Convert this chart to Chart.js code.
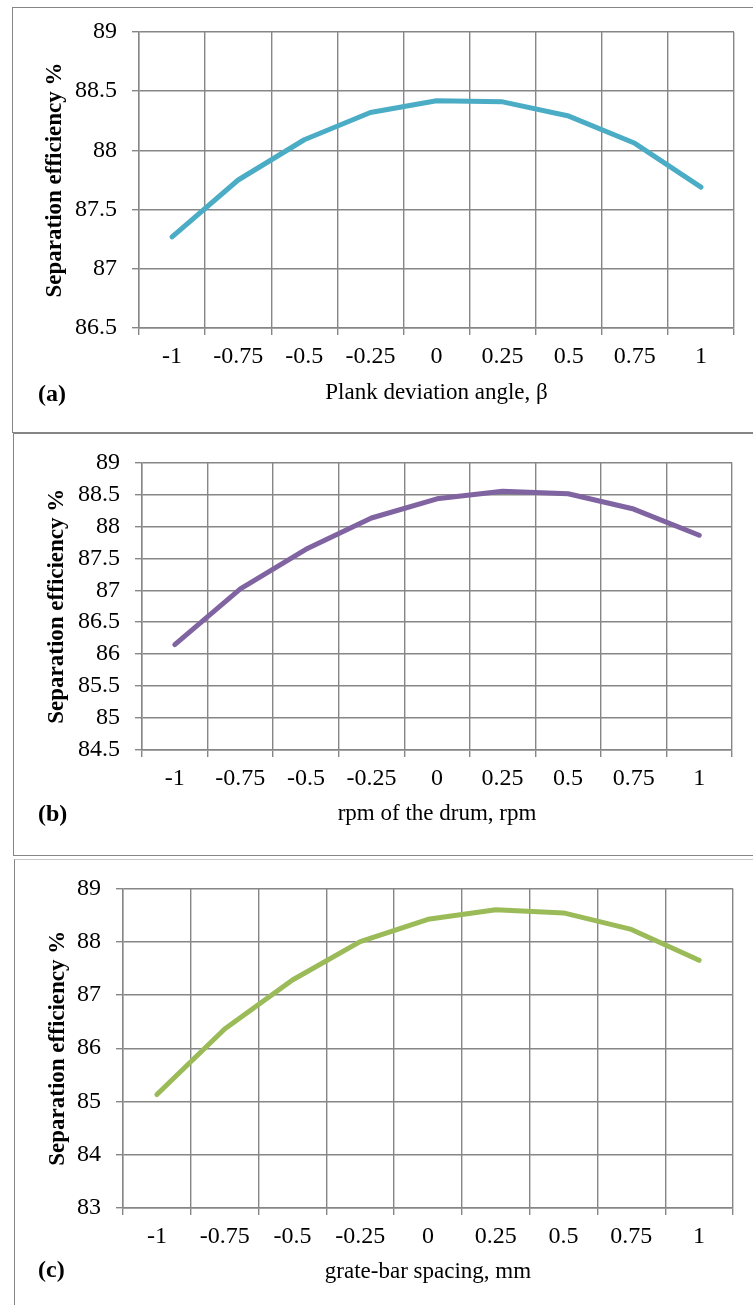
<!DOCTYPE html>
<html>
<head>
<meta charset="utf-8">
<title>Separation efficiency</title>
<script src="https://cdn.jsdelivr.net/npm/chart.js@4.4.1/dist/chart.umd.min.js"></script>
<style>
  html, body { margin: 0; padding: 0; background: #fff; }
  body { width: 753px; height: 1305px; position: relative; overflow: hidden; }
  .box { position: absolute; border: 1px solid #858585; box-sizing: border-box; }
  canvas { position: absolute; left: 0; }
  .tag { position: absolute; left: 38px; font: bold 24px/1 'Liberation Serif', 'Times New Roman', serif; color: #000; }
</style>
</head>
<body>
<div class="box" style="left:12px; top:7px; width:770px; height:426px;"></div>
<div class="box" style="left:13px; top:433px; width:770px; height:423px;"></div>
<div class="box" style="left:14px; top:859px; width:770px; height:470px; border-top-color:#c8c8c8;"></div>

<canvas id="chartA" width="753" height="432" style="top:0px"></canvas>
<canvas id="chartB" width="753" height="422" style="top:433px"></canvas>
<canvas id="chartC" width="753" height="446" style="top:859px"></canvas>

<div class="tag" style="top:381px">(a)</div>
<div class="tag" style="top:801px">(b)</div>
<div class="tag" style="top:1257px">(c)</div>

<script>
'use strict';

/* ─────────────────────────────────────────────────
   DATA
───────────────────────────────────────────────── */
const categories = ['-1', '-0.75', '-0.5', '-0.25', '0', '0.25', '0.5', '0.75', '1'];

const plankEff = [87.27, 87.75, 88.09, 88.32, 88.42, 88.41, 88.29, 88.06, 87.69];
const drumEff  = [86.15, 87.02, 87.64, 88.13, 88.43, 88.55, 88.51, 88.27, 87.86];
const grateEff = [85.13, 86.36, 87.28, 88.00, 88.42, 88.60, 88.54, 88.23, 87.65];

const plankTicks = [86.5, 87, 87.5, 88, 88.5, 89];
const drumTicks  = [84.5, 85, 85.5, 86, 86.5, 87, 87.5, 88, 88.5, 89];
const grateTicks = [83, 84, 85, 86, 87, 88, 89];

const xTitles = ['Plank deviation angle, β', 'rpm of the drum, rpm', 'grate-bar spacing, mm'];
const yTitle  = 'Separation efficiency %';


/* ─────────────────────────────────────────────────
   LOOK
───────────────────────────────────────────────── */
const SERIF = "'Liberation Serif', 'Times New Roman', serif";
const GRID  = '#868686';

// plot-area box of each canvas, in canvas pixels
const panels = [
  { id: 'chartA', values: plankEff, ticks: plankTicks, xTitle: xTitles[0], color: '#4bacc6',
    area: { left: 139, right: 734, top: 32, bottom: 328 }, yTitlePad: 41.7, xTitlePad: 25.7 },
  { id: 'chartB', values: drumEff, ticks: drumTicks, xTitle: xTitles[1], color: '#8064a2',
    area: { left: 142, right: 732, top: 26, bottom: 317 }, yTitlePad: 43.4, xTitlePad: 27 },
  { id: 'chartC', values: grateEff, ticks: grateTicks, xTitle: xTitles[2], color: '#9bbb59',
    area: { left: 123, right: 733, top: 25, bottom: 349 }, yTitlePad: 44.2, xTitlePad: 19.7 },
];


/* ─────────────────────────────────────────────────
   CHARTS
───────────────────────────────────────────────── */
function buildChart(p) {
  const canvas = document.getElementById(p.id);
  const W = canvas.width;
  const H = canvas.height;

  return new Chart(canvas, {
    type: 'line',
    data: {
      labels: categories,
      datasets: [{
        data: p.values,
        borderColor: p.color,
        borderWidth: 5,
        pointRadius: 0,
        tension: 0,
        borderCapStyle: 'round',
        borderJoinStyle: 'round',
        fill: false,
      }],
    },
    options: {
      responsive: false,
      animation: false,
      events: [],
      layout: { padding: { left: 0, top: p.area.top, right: W - p.area.right, bottom: 0 } },
      plugins: { legend: { display: false }, tooltip: { enabled: false } },
      scales: {
        x: {
          type: 'category',
          offset: true,
          grid:   { offset: true, color: GRID, lineWidth: 1.4, tickLength: 7 },
          border: { color: GRID, width: 1.4 },
          ticks:  { color: '#000', font: { family: SERIF, size: 24 }, padding: 7.5,
                    autoSkip: false, maxRotation: 0 },
          title:  { display: true, text: p.xTitle, color: '#000',
                    font: { family: SERIF, size: 23 }, padding: { top: 0, bottom: p.xTitlePad } },
          afterFit: s => { s.height = H - p.area.bottom; },
        },
        y: {
          min: p.ticks[0],
          max: p.ticks[p.ticks.length - 1],
          afterBuildTicks: s => { s.ticks = p.ticks.map(v => ({ value: v })); },
          grid:   { color: GRID, lineWidth: 1.4, tickLength: 7 },
          border: { color: GRID, width: 1.4 },
          ticks:  { color: '#000', font: { family: SERIF, size: 24 }, padding: 15,
                    callback: v => String(v) },
          title:  { display: true, text: yTitle, color: '#000',
                    font: { family: SERIF, size: 23, weight: 'bold' }, padding: { top: p.yTitlePad, bottom: 0 } },
          afterFit: s => { s.width = p.area.left; },
        },
      },
    },
  });
}

panels.forEach(buildChart);
</script>
</body>
</html>
